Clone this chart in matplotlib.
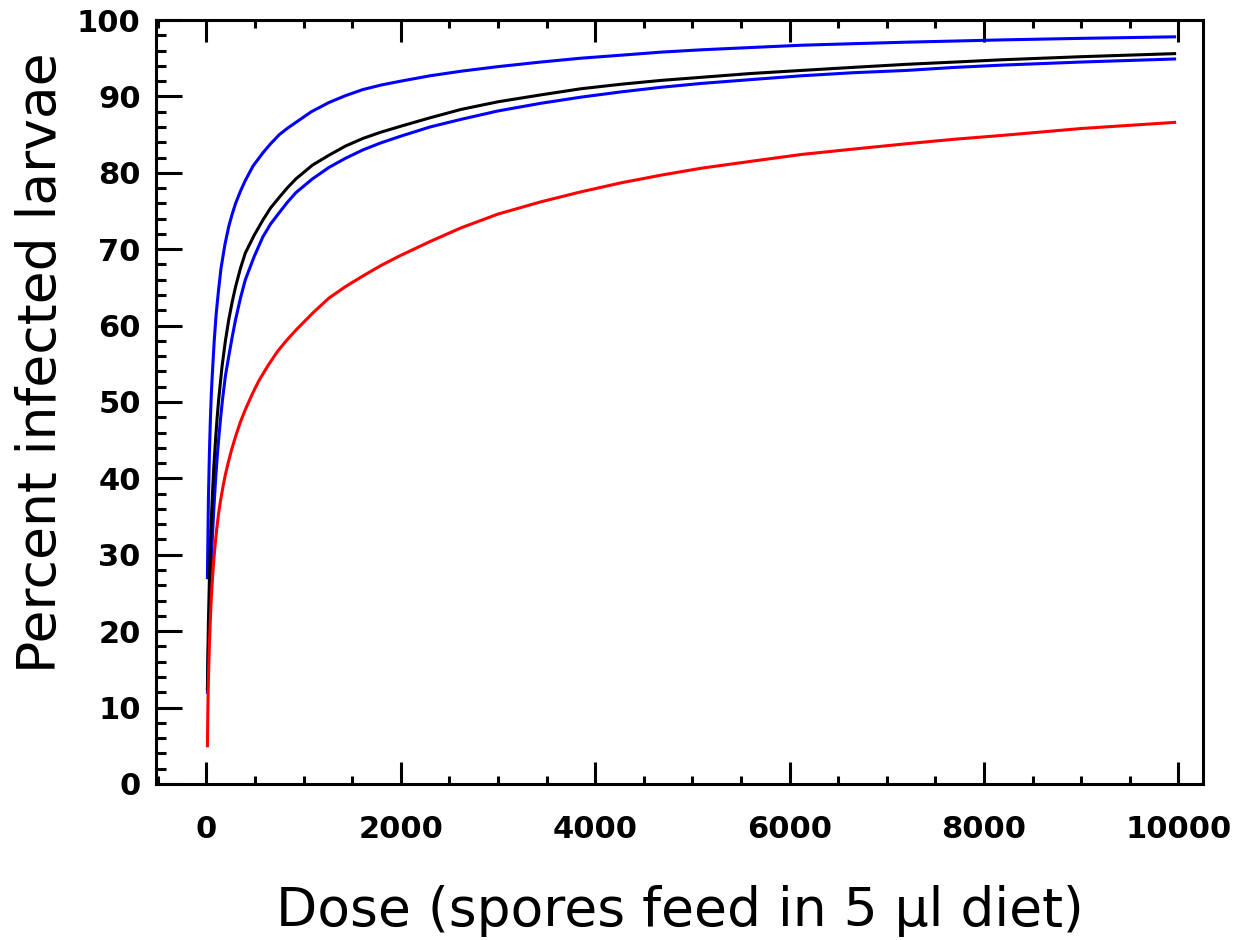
import matplotlib.pyplot as plt
from matplotlib.ticker import MultipleLocator

# readings taken off the dose-response curves (dose, percent infected)
blue_hi_x = [10, 20, 30, 40, 50, 60, 80, 100, 125, 150, 190, 230, 265, 300, 350, 400, 480,
             580, 660, 750, 830, 920, 1080, 1260, 1430, 1610, 1800, 2000, 2300, 2620, 3000,
             3440, 3850, 4270, 4680, 5090, 5600, 6120, 6650, 7200, 7700, 8190, 9000, 9960]
blue_hi_y = [27, 37, 43, 47.5, 51, 53.5, 58, 61.5, 64.7, 67.5, 70.6, 73, 74.6, 76, 77.6, 79, 80.9,
             82.6, 83.8, 85, 85.8, 86.6, 88, 89.2, 90.1, 90.9, 91.5, 92, 92.7, 93.3, 93.9,
             94.5, 95, 95.4, 95.8, 96.1, 96.4, 96.7, 96.9, 97.1, 97.25, 97.4, 97.6, 97.8]

black_x = [10, 15, 20, 30, 40, 50, 60, 75, 95, 110, 125, 160, 195, 230, 265, 300, 350, 400,
           490, 580, 660, 750, 830, 920, 1090, 1260, 1430, 1610, 1790, 2000, 2300, 2620, 3000,
           3440, 3850, 4270, 4680, 5090, 5600, 6120, 6650, 7200, 7700, 8190, 9000, 9960]
black_y = [12.5, 17, 21, 26.5, 31, 34.5, 37.5, 41.3, 45.3, 47.9, 50.2, 54.6, 58, 60.8, 63.1, 65.1, 67.5, 69.5,
           71.8, 73.8, 75.4, 76.8, 78, 79.2, 81, 82.3, 83.5, 84.5, 85.3, 86.1, 87.2, 88.3, 89.3,
           90.2, 91, 91.6, 92.1, 92.5, 93, 93.4, 93.8, 94.2, 94.5, 94.8, 95.2, 95.6]

blue_lo_x = [10, 15, 20, 30, 40, 50, 60, 75, 95, 110, 125, 145, 165, 195, 230, 265, 300, 350, 400,
             490, 580, 660, 750, 830, 920, 1090, 1260, 1430, 1610, 1790, 2000, 2300, 2620, 3000,
             3440, 3850, 4270, 4680, 5090, 5600, 6120, 6650, 7200, 7700, 8190, 9000, 9960]
blue_lo_y = [12, 15, 17.5, 22, 26, 29.2, 32, 35.8, 40, 42.7, 45, 47.8, 50.3, 53.4, 56, 58.5, 60.8, 63.6, 66,
             69, 71.6, 73.3, 74.8, 76.1, 77.4, 79.2, 80.7, 81.9, 83, 83.9, 84.8, 86, 87, 88.1,
             89.1, 89.9, 90.6, 91.2, 91.7, 92.2, 92.7, 93.1, 93.4, 93.8, 94.1, 94.5, 94.9]

red_x = [10, 15, 20, 30, 40, 50, 62, 75, 90, 105, 124, 145, 170, 195, 227, 260, 300, 350, 400,
         470, 540, 640, 730, 820, 920, 1090, 1260, 1430, 1610, 1800, 2000, 2300, 2620, 3000,
         3440, 3850, 4270, 4680, 5090, 5600, 6120, 6650, 7200, 7700, 8190, 9000, 9960]
red_y = [5, 10, 13.5, 18, 21.5, 24.3, 26.9, 29.2, 31.4, 33.3, 35.3, 37.1, 38.9, 40.5, 42.2, 43.8, 45.5, 47.4, 49,
         51, 52.8, 54.9, 56.6, 58, 59.4, 61.6, 63.6, 65.1, 66.5, 67.9, 69.2, 71, 72.8, 74.6,
         76.2, 77.5, 78.7, 79.7, 80.6, 81.5, 82.4, 83.1, 83.8, 84.4, 84.9, 85.8, 86.6]

fig = plt.figure(figsize=(12.37, 9.40), dpi=100)
ax = fig.add_axes([0.1261, 0.166, 0.8464, 0.8127])

lw = 2.2
ax.plot(blue_hi_x, blue_hi_y, color='#0000ff', lw=lw)
ax.plot(blue_lo_x, blue_lo_y, color='#0000ff', lw=lw)
ax.plot(black_x, black_y, color='black', lw=lw)
ax.plot(red_x, red_y, color='#ff0000', lw=lw)

ax.set_xlim(-519, 10252)
ax.set_ylim(0, 100)

ax.xaxis.set_major_locator(MultipleLocator(2000))
ax.xaxis.set_minor_locator(MultipleLocator(500))
ax.yaxis.set_major_locator(MultipleLocator(10))
ax.yaxis.set_minor_locator(MultipleLocator(2))

for s in ax.spines.values():
    s.set_linewidth(2.2)

ax.tick_params(axis='x', which='both', direction='in', top=True, bottom=True, width=2.2)
ax.tick_params(axis='x', which='major', length=16, pad=22)
ax.tick_params(axis='x', which='minor', length=6)
ax.tick_params(axis='y', which='both', direction='in', left=True, right=False, width=2.2)
ax.tick_params(axis='y', which='major', length=19, pad=11)
ax.tick_params(axis='y', which='minor', length=7)

for lab in ax.get_xticklabels() + ax.get_yticklabels():
    lab.set_fontfamily('DejaVu Sans')
    lab.set_fontweight('bold')
    lab.set_fontsize(22)

ax.set_xlabel('Dose (spores feed in 5 µl diet)', fontsize=38.5, labelpad=30)
ax.set_ylabel('Percent infected larvae', fontsize=38.5)
ax.yaxis.set_label_coords(-0.085, 0.551)

fig.savefig('out.png', dpi=100)
